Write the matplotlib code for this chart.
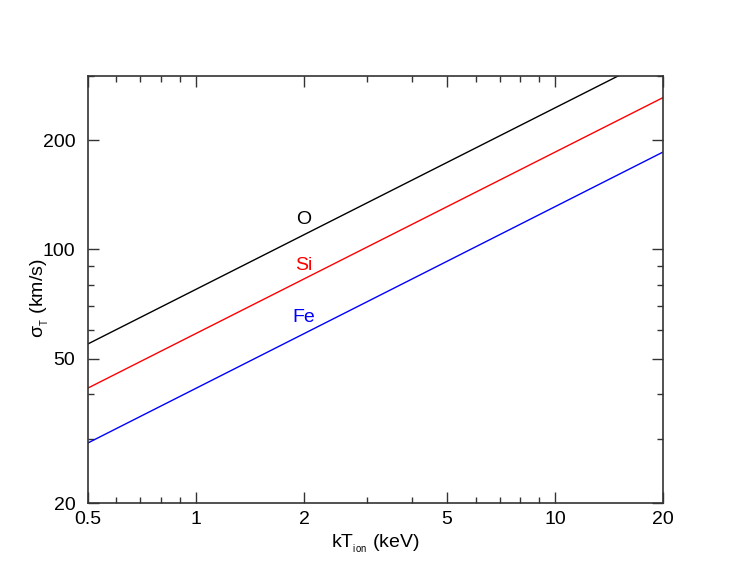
"""Thermal line broadening sigma_T versus ion temperature for O, Si and Fe."""

import matplotlib
matplotlib.use("Agg")
import matplotlib.pyplot as plt
from matplotlib.ticker import FixedLocator, NullFormatter

plt.rcParams['font.family'] = ['Liberation Sans', 'DejaVu Sans']
plt.rcParams['mathtext.fontset'] = 'custom'
plt.rcParams['mathtext.rm'] = 'Liberation Sans'

# kT_ion (keV) at the two ends of the plotted range
kt = [0.5, 20.0]

# sigma_T (km/s) at those ends
sigma_o = [54.9, 347.0]
sigma_si = [41.5, 262.0]
sigma_fe = [29.3, 185.5]

ions = ["O", "Si", "Fe"]
label_x = [2.0, 2.0, 2.0]
label_y = [121.0, 90.0, 65.0]

xticks = [0.5, 1, 2, 5, 10, 20]
xticklabels = ["0.5", "1", "2", "5", "10", "20"]
yticks = [20, 50, 100, 200]
yticklabels = ["20", "50", "100", "200"]

fig = plt.figure(figsize=(7.52, 5.81), dpi=100)
ax = fig.add_axes([0.117, 0.134, 0.765, 0.735])

colors = ["black", "red", "blue"]
for ys, c in zip([sigma_o, sigma_si, sigma_fe], colors):
    ax.plot(kt, ys, color=c, lw=1.0)

for name, x, y, c in zip(ions, label_x, label_y, colors):
    ax.text(x, y, name, color=c, fontsize=14, ha="center", va="center")

ax.set_xscale("log")
ax.set_yscale("log")
ax.set_xlim(0.5, 20)
ax.set_ylim(20, 300)

ax.xaxis.set_major_locator(FixedLocator(xticks))
ax.set_xticklabels(xticklabels)
ax.xaxis.set_minor_locator(FixedLocator([0.6, 0.7, 0.8, 0.9, 3, 4, 6, 7, 8, 9]))
ax.xaxis.set_minor_formatter(NullFormatter())
ax.yaxis.set_major_locator(FixedLocator(yticks))
ax.set_yticklabels(yticklabels)
ax.yaxis.set_minor_locator(FixedLocator([30, 40, 60, 70, 80, 90, 300]))
ax.yaxis.set_minor_formatter(NullFormatter())

ax.tick_params(which="both", direction="in", top=True, right=True,
               labelsize=14, width=1.0, color="#333333")
ax.tick_params(which="major", length=8)
ax.tick_params(axis="y", which="major", pad=9)
ax.tick_params(axis="x", which="major", pad=6)
ax.tick_params(which="minor", length=4)
for s in ax.spines.values():
    s.set_linewidth(1.2)
    s.set_color("#333333")

ax.set_xlabel(r"kT$_{_{\mathregular{ion}}}$ (keV)", fontsize=14)
ax.set_ylabel(r"σ$_{_{\mathregular{T}}}$ (km/s)", fontsize=14)
ax.xaxis.set_label_coords(0.5, -0.068)
ax.yaxis.set_label_coords(-0.064, 0.48)

fig.savefig("out.png", dpi=100)
